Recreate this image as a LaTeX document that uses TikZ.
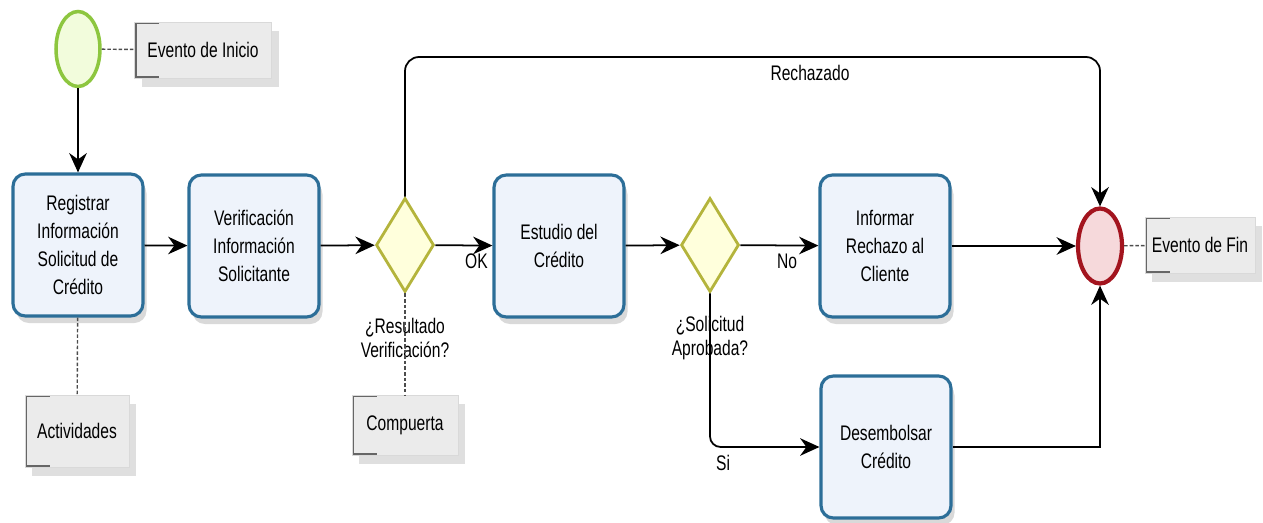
\documentclass[tikz,border=0pt]{standalone}
\usepackage{fontspec}
\setmainfont{Liberation Sans}[FakeStretch=0.74]
\usetikzlibrary{arrows.meta,shapes.geometric,shadows}

\definecolor{taskline}{HTML}{2C6E98}
\definecolor{taskfill}{HTML}{EEF3FB}
\definecolor{gateline}{HTML}{B4B43C}
\definecolor{gatefill}{HTML}{FFFFDC}
\definecolor{startline}{HTML}{8DC63F}
\definecolor{startfill}{HTML}{F2FCDC}
\definecolor{endline}{HTML}{A3141E}
\definecolor{endfill}{HTML}{F6D9DB}

\tikzset{
 flow/.style={line width=1pt, -{Stealth[length=11pt,width=10pt]}},
 assoc/.style={line width=0.8pt, black!70, dash pattern=on 2pt off 1.2pt},
 task/.style={draw=taskline, line width=1.8pt, fill=taskfill, rounded corners=7pt,
   minimum width=2.6cm, minimum height=2.84cm, align=center,
   drop shadow={shadow xshift=2pt, shadow yshift=-4pt, opacity=0.25, fill=black!60}},
 gate/.style={diamond, draw=gateline, line width=1.6pt, fill=gatefill,
   minimum width=1.16cm, minimum height=1.88cm, inner sep=0pt},
 note/.style={fill=black!8, draw=black!15, inner sep=0pt,
   drop shadow={shadow xshift=4pt, shadow yshift=-5pt, opacity=0.25, fill=black!50},
   path picture={\draw[black!60, line width=1.4pt]
     ([xshift=14pt,yshift=-0.7pt]path picture bounding box.north west) -- ++(-13.3pt,0)
     |- ([xshift=14pt,yshift=0.7pt]path picture bounding box.south west);}}
}

\begin{document}
\begin{tikzpicture}[x=0.02cm, y=-0.02cm, font=\fontsize{12pt}{16pt}\selectfont]
 \useasboundingbox (0,0) rectangle (1263,523);
 % eventos
 \node (start) [ellipse, draw=startline, line width=2pt, fill=startfill,
   minimum width=0.88cm, minimum height=1.5cm] at (78,49) {};
 \node (end) [ellipse, draw=endline, line width=2.4pt, fill=endfill,
   minimum width=0.88cm, minimum height=1.5cm] at (1100,246) {};
 % actividades
 \begin{scope}[every node/.style={task}]
  \node (reg) at (78,245) {Registrar\\Información\\Solicitud de\\Crédito};
  \node (ver) at (254,246) {Verificación\\Información\\Solicitante};
  \node (est) at (559,246) {Estudio del\\Crédito};
  \node (inf) at (885,246) {Informar\\Rechazo al\\Cliente};
  \node (des) at (886,447) {Desembolsar\\Crédito};
 \end{scope}
 % compuertas
 \begin{scope}[every node/.style={gate}]
  \node (g1) at (405,245) {};
  \node (g2) at (710,245) {};
 \end{scope}
 \node (g1lbl) [align=center, font=\fontsize{12pt}{14pt}\selectfont] at (405,338) {¿Resultado\\Verificación?};
 \node (g2lbl) [align=center, font=\fontsize{12pt}{14pt}\selectfont] at (710,338) {¿Solicitud\\Aprobada?};
 % anotaciones
 \begin{scope}[every node/.style={note}]
  \node (ini) [minimum width=2.74cm, minimum height=1.12cm] at (203,50) {Evento de Inicio};
  \node (act) [minimum width=2.08cm, minimum height=1.44cm] at (77,431) {Actividades};
  \node (comp) [minimum width=2.12cm, minimum height=1.2cm] at (405,425) {Compuerta};
  \node (fin) [minimum width=2.2cm, minimum height=1.12cm] at (1200,245) {Evento de Fin};
 \end{scope}
 \draw [assoc] (start) -- (ini);
 \draw [assoc] (reg) -- (act);
 \draw [assoc] (g1) -- (comp);
 \draw [assoc] (end) -- (fin);
 % flujo
 \coordinate (rtop) at (810,57);
 \draw [flow] (start) -- (reg);
 \draw [flow] (reg) -- (ver);
 \draw [flow] (ver) -- (g1);
 \draw [flow] (g1) -- node[pos=0.72, below=1pt] {OK} (est);
 \draw [flow, rounded corners=8pt] (g1.north) |- (rtop) node[below=1pt] {Rechazado} -| (end.north);
 \draw [flow] (est) -- (g2);
 \draw [flow] (g2) -- node[pos=0.6, below=1pt] {No} (inf);
 \draw [flow, rounded corners=6pt] (g2.south) |- node[pos=0.56, below=1pt] {Si} (des.west);
 \draw [flow] (inf) -- (end);
 \draw [flow] (des.east) -| (end.south);
\end{tikzpicture}
\end{document}
